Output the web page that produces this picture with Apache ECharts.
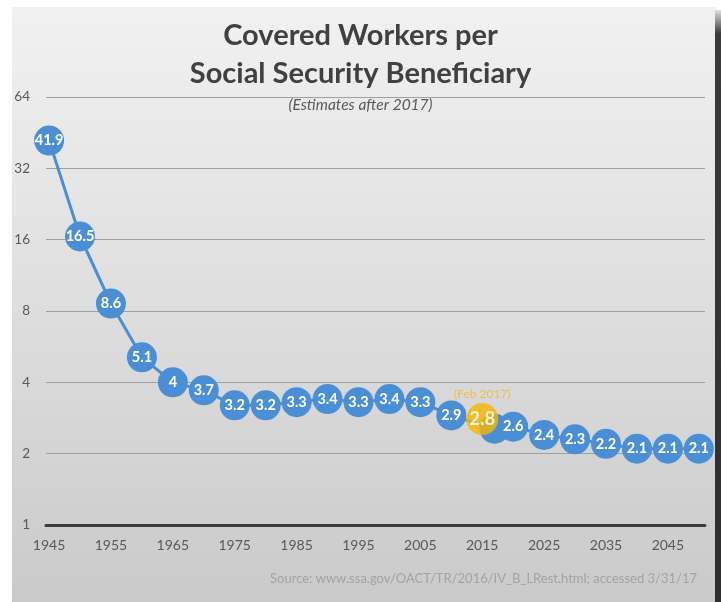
<!DOCTYPE html>
<html>
<head>
<meta charset="utf-8">
<script src="https://cdn.jsdelivr.net/npm/echarts@6/dist/echarts.min.js"></script>
<style>
html,body{margin:0;padding:0;background:#fff;}
#chart{width:721px;height:602px;}
</style>
</head>
<body>
<div id="chart"></div>
<script>
// ---- data ----
const years  = [1945,1950,1955,1960,1965,1970,1975,1980,1985,1990,1995,2000,2005,2010,2017,2020,2025,2030,2035,2040,2045,2050];
const values = [41.9,16.5,8.6,5.1,4,3.7,3.2,3.2,3.3,3.4,3.3,3.4,3.3,2.9,2.55,2.6,2.4,2.3,2.2,2.1,2.1,2.1];
const showLabel = [1,1,1,1,1,1,1,1,1,1,1,1,1,1,0,1,1,1,1,1,1,1];
const highlightYear = [2015];
const highlightValue = [2.8];
const highlightNote = '(Feb 2017)';
const xTickLabels = [1945,1955,1965,1975,1985,1995,2005,2015,2025,2035,2045];
const yTickLabels = [1,2,4,8,16,32,64];

const BLUE = '#4a8fd6';
const GOLD = '#f7b500';

const blueData = years.map((y,i)=>({
  value:[y, values[i]],
  label:{show: !!showLabel[i]}
}));
const goldData = highlightYear.map((y,i)=>[y, highlightValue[i]]);

const chart = echarts.init(document.getElementById('chart'), null, {renderer:'canvas'});
chart.setOption({
  animation:false,
  backgroundColor:'#ffffff',
  graphic:[
    {type:'rect', z:-10, silent:true, shape:{x:12,y:7,width:704,height:595},
     style:{fill:new echarts.graphic.LinearGradient(0,0,0,1,[
       {offset:0,color:'#f1f1f1'},{offset:0.5,color:'#dedede'},{offset:1,color:'#cacaca'}])}},
    {type:'rect', z:-9, silent:true, shape:{x:715,y:10,width:6,height:592},
     style:{fill:new echarts.graphic.LinearGradient(0,0,0,1,[
       {offset:0,color:'#e0e0e0'},{offset:0.04,color:'#3a3a3a'},{offset:1,color:'#2e2e2e'}])}},
    {type:'text', z:5, silent:true, right:24, top:572,
     style:{text:'Source: www.ssa.gov/OACT/TR/2016/IV_B_LRest.html; accessed 3/31/17',
       fill:'#a3a3a3', font:'13px Lato'}}
  ],
  title:[
    {text:'Covered Workers per\nSocial Security Beneficiary', left:'center', top:12,
     textStyle:{fontFamily:'Lato', fontSize:29, fontWeight:'bold', color:'#404040', lineHeight:38}},
    {text:'(Estimates after 2017)', left:'center', top:92,
     textStyle:{fontFamily:'Lato', fontSize:15.5, fontStyle:'italic', fontWeight:'normal', color:'#595959'}}
  ],
  grid:{left:46, right:16, top:97, bottom:77, containLabel:false},
  xAxis:{
    type:'value', min:1944.5, max:2051,
    axisLine:{show:true, lineStyle:{color:'#3c3c3c', width:3}},
    axisTick:{show:false},
    splitLine:{show:false},
    axisLabel:{customValues:xTickLabels, formatter:(v)=>String(v), margin:13, color:'#595959', fontFamily:'Lato', fontSize:14}
  },
  yAxis:{
    type:'log', logBase:2, min:1, max:64,
    axisLine:{show:false}, axisTick:{show:false},
    splitLine:{show:true, lineStyle:{color:'#a0a0a0', width:1.2}},
    axisLabel:{customValues:yTickLabels, margin:16, color:'#595959', fontFamily:'Lato', fontSize:13.5}
  },
  series:[
    {type:'line', data:blueData, clip:false, z:2,
     symbol:'circle', symbolSize:30,
     lineStyle:{color:BLUE, width:3},
     itemStyle:{color:BLUE},
     label:{show:true, position:'inside', color:'#ffffff', fontFamily:'Lato', fontWeight:'bold', fontSize:14.5},
     emphasis:{disabled:true}},
    {type:'scatter', data:goldData, clip:false, z:3,
     symbol:'circle', symbolSize:32,
     itemStyle:{color:GOLD},
     label:{show:true, position:'inside', color:'#ffffff', fontFamily:'Lato', fontWeight:'bold', fontSize:18.5},
     emphasis:{disabled:true}},
    {type:'scatter', data:goldData, clip:false, z:4, silent:true,
     symbol:'circle', symbolSize:32, itemStyle:{color:'rgba(0,0,0,0)'},
     label:{show:true, position:'top', distance:3, formatter:highlightNote,
       color:'#f3b828', fontFamily:'Lato', fontSize:12},
     emphasis:{disabled:true}}
  ]
});
</script>
</body>
</html>
